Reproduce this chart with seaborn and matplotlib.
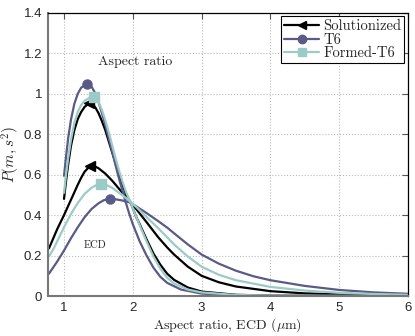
import numpy as np
import pandas as pd
import matplotlib
matplotlib.use("Agg")
import matplotlib.pyplot as plt
import seaborn as sns
from matplotlib.lines import Line2D

# Aspect ratio curves (start at 1)
ar_x_sol = [1.0, 1.03, 1.06, 1.1, 1.15, 1.2, 1.25, 1.3, 1.37, 1.45, 1.5, 1.55, 1.6, 1.65, 1.7, 1.75, 1.8, 1.85, 1.9, 1.97,
            2.05, 2.1, 2.2, 2.3, 2.4, 2.5, 2.6, 2.8, 3.0, 3.5, 4.0, 6.0]
ar_y_sol = [0.48, 0.57, 0.65, 0.74, 0.82, 0.875, 0.91, 0.935, 0.954, 0.935, 0.905, 0.865, 0.82, 0.765, 0.71, 0.655, 0.60, 0.55, 0.505, 0.46,
            0.39, 0.355, 0.28, 0.21, 0.155, 0.11, 0.08, 0.042, 0.022, 0.006, 0.002, 0.0]

ar_x_t6 = [1.0, 1.03, 1.06, 1.1, 1.15, 1.2, 1.25, 1.33, 1.4, 1.45, 1.5, 1.55, 1.6, 1.65, 1.7, 1.75, 1.8, 1.85, 1.9, 1.95,
           2.0, 2.1, 2.2, 2.3, 2.4, 2.5, 2.7, 3.0, 3.5, 4.0, 6.0]
ar_y_t6 = [0.594, 0.69, 0.78, 0.87, 0.95, 1.0, 1.03, 1.05, 1.035, 1.005, 0.96, 0.905, 0.845, 0.78, 0.715, 0.645, 0.58, 0.52, 0.46, 0.405,
           0.355, 0.27, 0.20, 0.14, 0.095, 0.065, 0.032, 0.012, 0.003, 0.001, 0.0]

ar_x_ft6 = [1.0, 1.03, 1.06, 1.1, 1.15, 1.2, 1.25, 1.3, 1.37, 1.43, 1.5, 1.55, 1.6, 1.65, 1.7, 1.75, 1.8, 1.85, 1.9, 1.97,
            2.05, 2.1, 2.2, 2.3, 2.4, 2.5, 2.6, 2.8, 3.0, 3.5, 4.0, 6.0]
ar_y_ft6 = [0.51, 0.60, 0.68, 0.77, 0.855, 0.91, 0.945, 0.965, 0.98, 0.985, 0.96, 0.92, 0.87, 0.81, 0.745, 0.68, 0.62, 0.565, 0.515, 0.46,
            0.39, 0.35, 0.27, 0.195, 0.135, 0.09, 0.062, 0.032, 0.018, 0.005, 0.002, 0.0]

# ECD curves
ecd_x_sol = [0.78, 0.85, 0.9, 1.0, 1.1, 1.2, 1.25, 1.3, 1.38, 1.45, 1.5, 1.6, 1.7, 1.8, 1.9, 1.96, 2.05, 2.2, 2.37, 2.5,
             2.6, 2.8, 3.0, 3.25, 3.5, 4.0, 4.5, 5.0, 5.5, 6.0]
ecd_y_sol = [0.235, 0.29, 0.33, 0.40, 0.475, 0.55, 0.585, 0.615, 0.643, 0.64, 0.632, 0.605, 0.57, 0.53, 0.49, 0.465, 0.43, 0.365, 0.29, 0.24,
             0.205, 0.145, 0.10, 0.068, 0.047, 0.024, 0.013, 0.008, 0.005, 0.003]

ecd_x_t6 = [0.78, 0.85, 0.9, 1.0, 1.1, 1.2, 1.3, 1.4, 1.5, 1.58, 1.67, 1.75, 1.85, 1.96, 2.05, 2.2, 2.37, 2.5, 2.6, 2.8,
            3.0, 3.25, 3.5, 3.75, 4.0, 4.5, 5.0, 5.5, 6.0]
ecd_y_t6 = [0.11, 0.145, 0.17, 0.225, 0.285, 0.34, 0.39, 0.43, 0.458, 0.474, 0.48, 0.478, 0.472, 0.462, 0.443, 0.41, 0.37, 0.338, 0.31, 0.255,
            0.205, 0.16, 0.125, 0.098, 0.078, 0.05, 0.03, 0.018, 0.011]

ecd_x_ft6 = [0.78, 0.85, 0.9, 1.0, 1.1, 1.2, 1.3, 1.4, 1.47, 1.54, 1.62, 1.7, 1.8, 1.9, 1.96, 2.05, 2.2, 2.37, 2.5, 2.6,
             2.8, 3.0, 3.25, 3.5, 4.0, 4.5, 5.0, 5.5, 6.0]
ecd_y_ft6 = [0.195, 0.235, 0.27, 0.34, 0.405, 0.46, 0.505, 0.535, 0.548, 0.553, 0.548, 0.535, 0.51, 0.485, 0.467, 0.44, 0.39, 0.335, 0.29, 0.255,
             0.195, 0.145, 0.105, 0.078, 0.045, 0.027, 0.016, 0.01, 0.006]

labels = ["Solutionized", "T6", "Formed-T6"]
colors = ["black", "#5a5a88", "#9ccbc7"]
markers = ["<", "o", "s"]

sns.set_style("white")
plt.rcParams["mathtext.fontset"] = "cm"

fig = plt.figure(figsize=(4.15, 3.36), dpi=100)
ax = fig.add_axes([0.1145, 0.119, 0.8685, 0.843])

curves = [
    (ar_x_sol, ar_y_sol, 0), (ecd_x_sol, ecd_y_sol, 0),
    (ar_x_t6, ar_y_t6, 1), (ecd_x_t6, ecd_y_t6, 1),
    (ar_x_ft6, ar_y_ft6, 2), (ecd_x_ft6, ecd_y_ft6, 2),
]
for xs, ys, k in curves:
    df = pd.DataFrame({"x": xs, "y": ys})
    sns.lineplot(data=df, x="x", y="y", color=colors[k], lw=1.6, ax=ax, sort=False)
    # marker only at the peak of each curve
    i = int(np.argmax(ys))
    ax.plot([xs[i]], [ys[i]], marker=markers[k], color=colors[k], ms=6.5, ls="none", zorder=5)

ax.set_xlim(0.76, 6)
ax.set_ylim(0, 1.4)
ax.set_xticks([1, 2, 3, 4, 5, 6])
ax.set_yticks([0, 0.2, 0.4, 0.6, 0.8, 1.0, 1.2, 1.4])
ax.set_yticklabels(["0", "0.2", "0.4", "0.6", "0.8", "1", "1.2", "1.4"])
for t in ax.get_xticklabels() + ax.get_yticklabels():
    t.set_family("Liberation Sans")
    t.set_fontsize(9.5)
ax.tick_params(direction="in", length=4, top=True, right=True, pad=4, color="#555555")
ax.grid(True, ls=":", color="#bbbbbb", lw=0.8)

for s in ["left", "bottom"]:
    ax.spines[s].set_color("#777777")
    ax.spines[s].set_linewidth(1.5)
for s in ["top", "right"]:
    ax.spines[s].set_color("black")
    ax.spines[s].set_linewidth(0.9)

ax.set_xlabel(r"Aspect ratio, ECD ($\mu$m)", family="cmr10", fontsize=10, labelpad=2)
ax.set_ylabel(r"$P(m,s^2)$", fontsize=11)
ax.yaxis.set_label_coords(-0.07, 0.5)

ax.text(2.03, 1.155, "Aspect ratio", family="cmr10", fontsize=10, ha="center", va="center")
ax.text(1.45, 0.25, "ECD", family="cmr10", fontsize=7.5, ha="center", va="center")

handles = [Line2D([0], [0], color=c, lw=1.6, marker=m, ms=6) for c, m in zip(colors, markers)]
leg = ax.legend(handles, labels, loc="upper right", prop={"family": "cmr10", "size": 10.5},
                frameon=True, fancybox=False, edgecolor="black", framealpha=1,
                handlelength=2.4, handletextpad=0.3, labelspacing=0.0, borderpad=0.2,
                borderaxespad=0.25)
leg.get_frame().set_linewidth(0.8)

fig.savefig("out.png", dpi=100)
